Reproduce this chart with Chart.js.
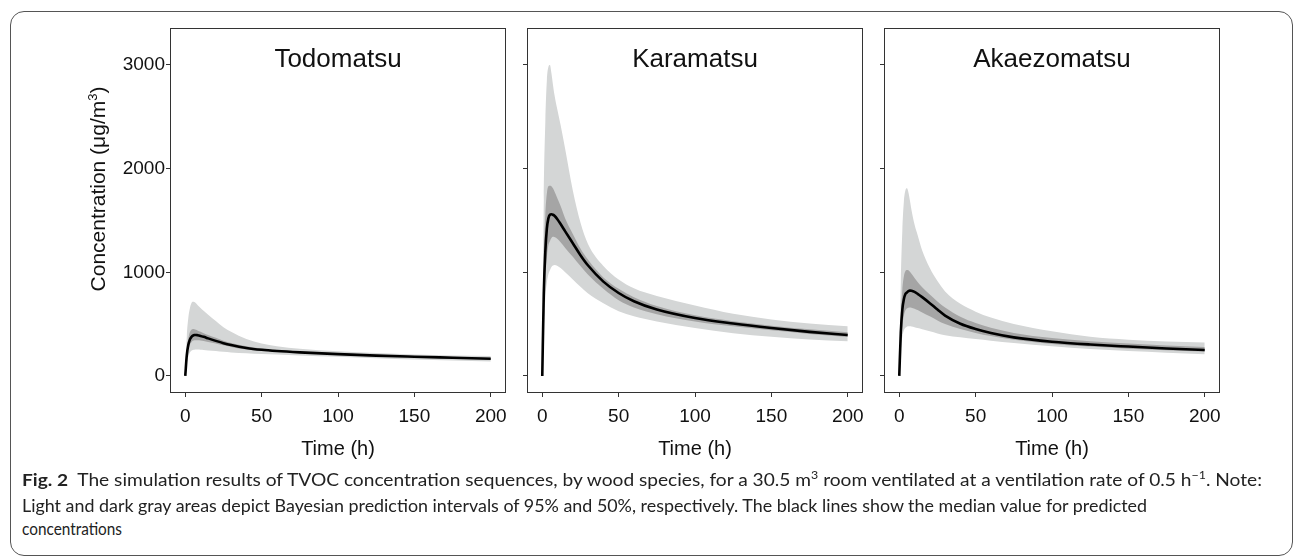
<!DOCTYPE html>
<html>
<head>
<meta charset="utf-8">
<script src="https://cdn.jsdelivr.net/npm/chart.js@4.4.1/dist/chart.umd.min.js"></script>
<style>
  html, body { margin: 0; padding: 0; background: #fff; }
  body { width: 1295px; height: 558px; position: relative; overflow: hidden;
         font-family: 'Liberation Sans', Arial, sans-serif; color: #111; }
  #frame { position: absolute; left: 10px; top: 11px; width: 1283px; height: 545px;
           box-sizing: border-box; border: 1px solid #555; border-radius: 14px; }
  canvas { position: absolute; top: 0; }
  .ptitle { position: absolute; top: 43px; width: 336px; text-align: center;
            font-size: 26px; line-height: 30px; color: #111; }
  #ytitle { position: absolute; left: -57px; top: 177px; width: 300px; height: 24px;
            line-height: 24px; text-align: center; font-size: 21px; color: #111;
            transform: rotate(-90deg); white-space: nowrap; }
  .cap { position: absolute; left: 22px; font-family: Lato, 'Open Sans', sans-serif;
         font-size: 17px; line-height: 20px; white-space: nowrap; color: #222;
         transform-origin: 0 0; }
  .cap sup { font-size: 11px; line-height: 0; }
</style>
</head>
<body>
<div id="frame"></div>

<canvas id="todo" width="460" height="470" style="left:60px"></canvas>
<canvas id="kara" width="370" height="470" style="left:507px"></canvas>
<canvas id="akae" width="370" height="470" style="left:864px"></canvas>

<div class="ptitle" style="left:170px">Todomatsu</div>
<div class="ptitle" style="left:527px">Karamatsu</div>
<div class="ptitle" style="left:884px">Akaezomatsu</div>
<div id="ytitle">Concentration (μg/m<sup style="font-size:13px">3</sup>)</div>

<div class="cap" id="cap1" data-w="1240" style="top:470px"><b>Fig. 2</b>&nbsp; The simulation results of TVOC concentration sequences, by wood species, for a 30.5 m<sup>3</sup> room ventilated at a ventilation rate of 0.5 h<sup>−1</sup>. Note:</div>
<div class="cap" id="cap2" data-w="1125" style="top:496px">Light and dark gray areas depict Bayesian prediction intervals of 95% and 50%, respectively. The black lines show the median value for predicted</div>
<div class="cap" id="cap3" data-w="100" style="top:519px">concentrations</div>

<script>
// time points (h) where the curves were read
const timeH = [0, 1, 2, 3, 4, 5, 6, 7, 8, 10, 12, 15, 20, 25, 30, 40, 50, 60, 75, 100, 125, 150, 175, 200];
const xTicks = [0, 50, 100, 150, 200];
const yTicks = [0, 1000, 2000, 3000];

// Todomatsu
const todoMedian = [0, 200, 300, 350, 375, 388, 394, 395, 393, 386, 377, 362, 338, 316, 298, 270, 252, 240, 227, 210, 196, 185, 175, 165];
const todoHi50   = [0, 240, 360, 420, 445, 452, 450, 445, 438, 425, 412, 394, 367, 340, 318, 286, 265, 251, 236, 218, 204, 193, 184, 175];
const todoLo50   = [0, 170, 255, 300, 325, 338, 343, 345, 345, 342, 336, 328, 312, 295, 280, 255, 240, 230, 220, 203, 190, 178, 168, 158];
const todoHi95   = [0, 380, 560, 650, 700, 715, 712, 700, 685, 655, 628, 590, 530, 470, 425, 355, 312, 287, 262, 238, 220, 207, 198, 192];
const todoLo95   = [0, 120, 190, 225, 242, 250, 253, 254, 254, 252, 250, 246, 240, 232, 226, 218, 211, 206, 198, 185, 170, 158, 148, 140];

// Karamatsu
const karaMedian = [0, 800, 1200, 1420, 1520, 1555, 1560, 1555, 1545, 1510, 1465, 1395, 1280, 1165, 1065, 910, 800, 720, 640, 558, 505, 462, 425, 395];
const karaHi50   = [0, 1100, 1550, 1760, 1830, 1835, 1830, 1810, 1780, 1710, 1640, 1520, 1370, 1230, 1120, 950, 840, 760, 675, 585, 528, 485, 450, 422];
const karaLo50   = [0, 600, 950, 1150, 1260, 1300, 1330, 1342, 1340, 1320, 1290, 1235, 1150, 1060, 975, 840, 730, 660, 595, 525, 478, 440, 405, 375];
const karaHi95   = [0, 1700, 2450, 2850, 2980, 3000, 2920, 2810, 2710, 2560, 2420, 2190, 1790, 1480, 1270, 1060, 930, 845, 770, 680, 600, 545, 505, 480];
const karaLo95   = [0, 450, 750, 900, 980, 1020, 1050, 1065, 1070, 1060, 1040, 1000, 930, 860, 795, 700, 625, 575, 525, 462, 412, 378, 352, 335];

// Akaezomatsu
const akaeMedian = [0, 420, 640, 740, 790, 805, 818, 823, 821, 810, 792, 760, 702, 640, 582, 503, 452, 414, 372, 330, 303, 283, 265, 250];
const akaeHi50   = [0, 560, 830, 960, 1010, 1022, 1020, 1005, 985, 945, 905, 855, 785, 718, 660, 570, 510, 465, 415, 365, 335, 312, 294, 280];
const akaeLo50   = [0, 300, 480, 580, 630, 650, 658, 660, 658, 648, 635, 612, 575, 535, 500, 452, 415, 385, 348, 308, 283, 263, 248, 236];
const akaeHi95   = [0, 900, 1400, 1680, 1790, 1810, 1770, 1690, 1600, 1460, 1360, 1210, 1040, 915, 815, 695, 620, 563, 500, 430, 378, 350, 333, 322];
const akaeLo95   = [0, 250, 380, 440, 465, 475, 478, 478, 476, 470, 462, 450, 430, 410, 393, 372, 355, 340, 318, 285, 260, 240, 224, 210];

const LIGHT = '#d4d6d6';
const DARK = '#a5a5a5';
const AXIS = '#333333';

// box around the plot panel (ggplot theme_bw style)
const panelBox = {
  id: 'panelBox',
  afterDraw(chart) {
    const { ctx, chartArea: a } = chart;
    ctx.save();
    ctx.strokeStyle = AXIS;
    ctx.lineWidth = 1;
    ctx.strokeRect(Math.round(a.left) + 0.5, Math.round(a.top) + 0.5,
                   Math.round(a.right - a.left) - 1, Math.round(a.bottom - a.top) - 1);
    ctx.restore();
  }
};

const pts = (arr) => timeH.map((t, i) => ({ x: t, y: arr[i] }));

function band(arr, color, fill) {
  return {
    data: pts(arr),
    borderWidth: 0,
    borderColor: 'transparent',
    backgroundColor: color,
    pointRadius: 0,
    cubicInterpolationMode: 'monotone',
    fill: fill
  };
}

function makePanel(id, med, lo50, hi50, lo95, hi95, yWidth, showYLabels) {
  const ctx = document.getElementById(id).getContext('2d');
  new Chart(ctx, {
    type: 'line',
    data: {
      datasets: [
        {
          data: pts(med),
          borderColor: '#000',
          borderWidth: 2.6,
          pointRadius: 0,
          cubicInterpolationMode: 'monotone',
          fill: false
        },
        band(hi50, DARK, '+1'),
        band(lo50, 'transparent', false),
        band(hi95, LIGHT, '+1'),
        band(lo95, 'transparent', false)
      ]
    },
    options: {
      responsive: false,
      animation: false,
      devicePixelRatio: 1,
      events: [],
      layout: { padding: { left: 0, top: 28, right: 14, bottom: 7 } },
      plugins: { legend: { display: false }, tooltip: { enabled: false } },
      scales: {
        x: {
          type: 'linear',
          min: -10,
          max: 210,
          afterBuildTicks: (s) => { s.ticks = xTicks.map(v => ({ value: v })); },
          afterFit: (s) => { s.height = 70; },
          border: { display: false },
          grid: { drawOnChartArea: false, drawTicks: true, tickLength: 4, color: AXIS },
          ticks: {
            color: '#111', padding: 8, maxRotation: 0, autoSkip: false,
            font: { family: 'Liberation Sans', size: 19 }
          },
          title: {
            display: true, text: 'Time (h)', color: '#111',
            font: { family: 'Liberation Sans', size: 20 },
            padding: { top: 0, bottom: 2 }
          }
        },
        y: {
          type: 'linear',
          min: -165,
          max: 3357,
          afterBuildTicks: (s) => { s.ticks = yTicks.map(v => ({ value: v })); },
          afterFit: (s) => { s.width = yWidth; },
          border: { display: false },
          grid: { drawOnChartArea: false, drawTicks: true, tickLength: 4, color: AXIS },
          ticks: {
            color: '#111', padding: 1,
            font: { family: 'Liberation Sans', size: 19 },
            callback: (v) => showYLabels ? String(v) : ''
          }
        }
      }
    },
    plugins: [panelBox]
  });
}

makePanel('todo', todoMedian, todoLo50, todoHi50, todoLo95, todoHi95, 110, true);
makePanel('kara', karaMedian, karaLo50, karaHi50, karaLo95, karaHi95, 20, false);
makePanel('akae', akaeMedian, akaeLo50, akaeHi50, akaeLo95, akaeHi95, 20, false);

// squeeze each caption line to the narrow journal face width
document.querySelectorAll('.cap').forEach(el => {
  const k = Number(el.dataset.w) / el.getBoundingClientRect().width;
  el.style.transform = 'scaleX(' + k + ')';
});
</script>
</body>
</html>
